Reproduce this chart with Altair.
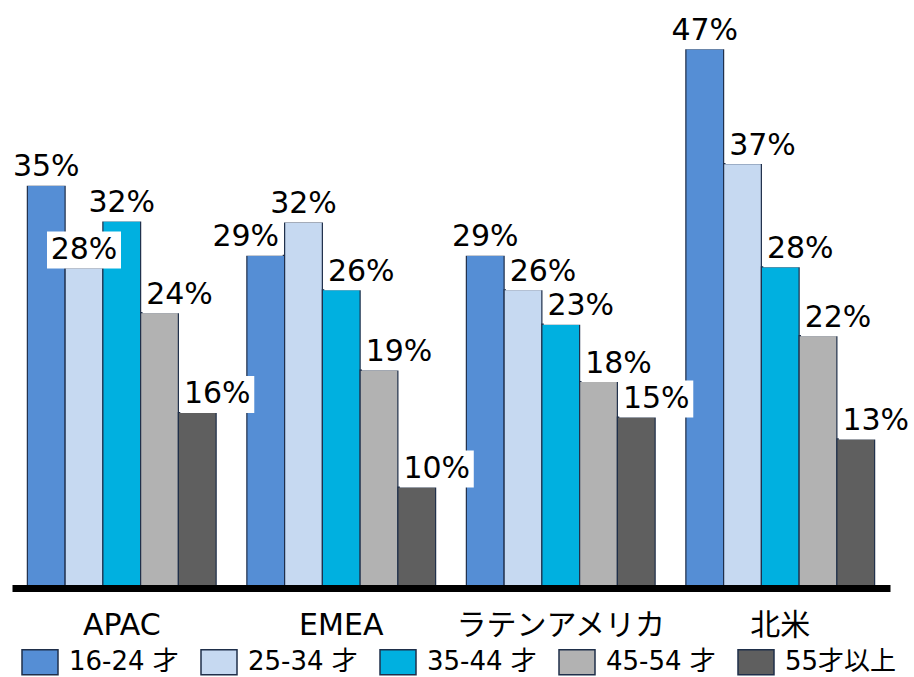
import altair as alt
import pandas as pd

regions = ["APAC", "EMEA", "ラテンアメリカ", "北米"]
age_groups = ["16-24 才", "25-34 才", "35-44 才", "45-54 才", "55才以上"]
# bar heights (percent)
apac = [35.1, 27.9, 32.0, 24.0, 15.3]
emea = [29.0, 31.9, 26.0, 19.0, 8.8]
latam = [29.0, 26.0, 23.0, 18.0, 14.9]
north_america = [47.0, 37.0, 28.0, 22.0, 13.0]
# data labels as printed on the chart
apac_labels = ["35%", "28%", "32%", "24%", "16%"]
emea_labels = ["29%", "32%", "26%", "19%", "10%"]
latam_labels = ["29%", "26%", "23%", "18%", "15%"]
north_america_labels = ["47%", "37%", "28%", "22%", "13%"]
colors = ["#558ED5", "#C6D9F1", "#00B0E0", "#B2B2B2", "#5F5F5F"]

rows = []
for region, vals, labs in zip(
    regions,
    [apac, emea, latam, north_america],
    [apac_labels, emea_labels, latam_labels, north_america_labels],
):
    for i, (g, v, l) in enumerate(zip(age_groups, vals, labs)):
        rows.append({"region": region, "age": g, "order": i, "value": v, "label": l})
df = pd.DataFrame(rows)

FONT = "DejaVu Sans, Noto Sans CJK JP"
STROKE = "#1F2F4A"

x = alt.X(
    "region:N",
    sort=regions,
    scale=alt.Scale(paddingInner=0.14, paddingOuter=0.07),
    axis=alt.Axis(
        title=None, labelAngle=0, labelFontSize=30, labelFont=FONT,
        labelColor="#000", labelPadding=22, ticks=False, labelLimit=400,
        domainColor="#000", domainWidth=7, grid=False, zindex=1,
    ),
)
xo = alt.XOffset("age:N", sort=age_groups,
                 scale=alt.Scale(paddingInner=0, paddingOuter=0))
y = alt.Y("value:Q", scale=alt.Scale(domain=[0, 51.26], nice=False, zero=True),
          axis=None)

base = alt.Chart(df).encode(x=x, xOffset=xo, y=y)

bars = base.mark_bar(stroke=STROKE, strokeWidth=1.2).encode(
    color=alt.Color(
        "age:N",
        sort=age_groups,
        scale=alt.Scale(domain=age_groups, range=colors),
        legend=alt.Legend(
            title=None, orient="none", legendX=9, legendY=643,
            direction="horizontal", columns=5,
            symbolType="M-1,-0.69H1V0.69H-1Z", symbolSize=1296,
            symbolStrokeColor=STROKE, symbolStrokeWidth=1.5, symbolOpacity=1,
            labelFontSize=26, labelFont=FONT, labelColor="#000",
            labelOffset=10, columnPadding=17, gridAlign="all", padding=0,
            labelLimit=300,
        ),
    )
)

# label placement rule: nudge a label away from a taller neighbouring bar
placed = base.transform_window(
    prev="lag(value)", nxt="lead(value)", groupby=["region"],
    sort=[alt.SortField("order")],
).transform_calculate(
    shift="(isValid(datum.prev) && datum.prev > datum.value ? 1 : 0)"
          " - (isValid(datum.nxt) && datum.nxt > datum.value ? 1 : 0)"
)

SHIFT = 20
BOX_W = 74
half = BOX_W / 2
box_layers = []
text_layers = []
for s in (-1, 0, 1):
    sub = placed.transform_filter(f"datum.shift == {s}")
    off = s * SHIFT / half
    path = f"M{-1 + off:.3f},-0.5H{1 + off:.3f}V0.5H{-1 + off:.3f}Z"
    box_layers.append(
        sub.mark_point(
            shape=path, filled=True, fill="white", opacity=1,
            strokeWidth=0, yOffset=-18,
        ).encode(size=alt.value(BOX_W * BOX_W))
    )
    text_layers.append(
        sub.mark_text(
            baseline="alphabetic", dy=-9, dx=s * SHIFT,
            fontSize=30, font=FONT, color="#000",
        ).encode(text="label:N")
    )

chart = (
    alt.layer(bars, *box_layers, *text_layers)
    .properties(
        width=878, height=588,
        padding={"left": 12, "top": 0, "right": 24, "bottom": 89},
        autosize=alt.AutoSizeParams(type="none"),
    )
    .configure_view(stroke=None)
)

chart.save("out.html", embed_options={"renderer": "svg", "actions": False})
